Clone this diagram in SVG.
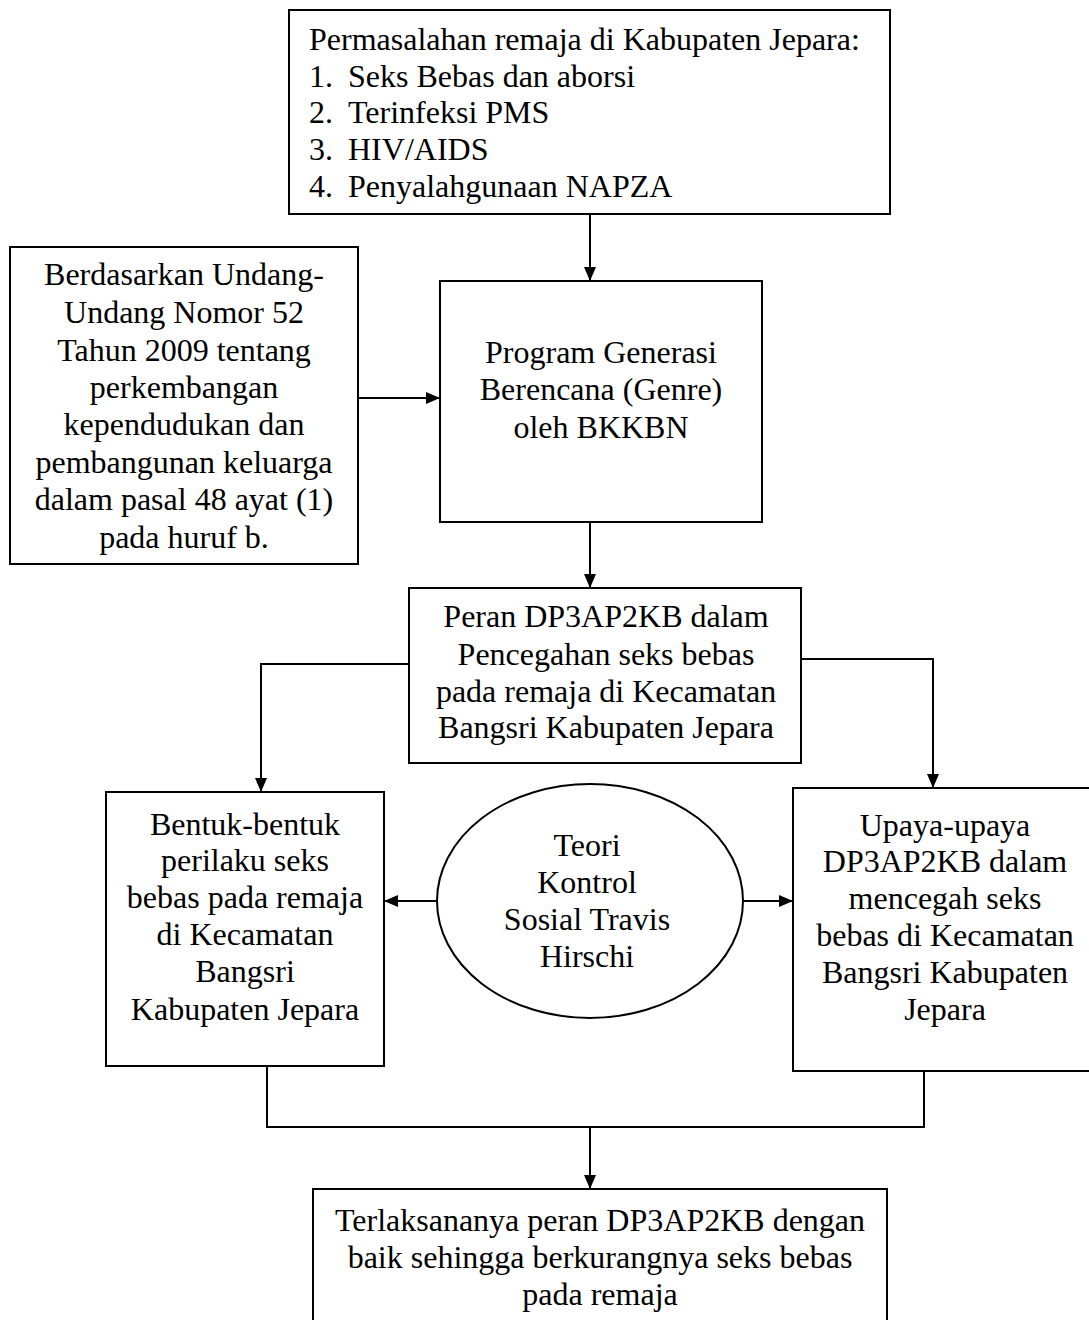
<svg xmlns="http://www.w3.org/2000/svg" width="1089" height="1320" viewBox="0 0 1089 1320">
<defs>
<marker id="ah" markerWidth="14" markerHeight="12" viewBox="0 0 14 12" refX="14" refY="6" orient="auto" markerUnits="userSpaceOnUse">
<path d="M0,0 L14,6 L0,12 z" fill="#000"/>
</marker>
<style>
.box{fill:#fff;stroke:#000;stroke-width:2}
.t{font-family:"Liberation Serif","Times New Roman",serif;font-size:32px;fill:#000}
.c{text-anchor:middle}
.ln{fill:none;stroke:#000;stroke-width:2}
.ar{fill:none;stroke:#000;stroke-width:2;marker-end:url(#ah)}
</style>
</defs>
<rect width="1089" height="1320" fill="#fff"/>
<g id="connectors">
<line class="ar" x1="590" y1="214" x2="590" y2="281"/>
<line class="ar" x1="358" y1="398" x2="440" y2="398"/>
<line class="ar" x1="590" y1="522" x2="590" y2="588"/>
<polyline class="ar" points="409,664 261,664 261,792"/>
<polyline class="ar" points="801,659 933,659 933,788"/>
<line class="ar" x1="437" y1="901" x2="384" y2="901"/>
<line class="ar" x1="744" y1="901" x2="793" y2="901"/>
<polyline class="ln" points="267,1066 267,1127 924,1127 924,1071"/>
<line class="ar" x1="590" y1="1127" x2="590" y2="1189"/>
</g>
<g id="n-permasalahan">
<rect class="box" x="289" y="10" width="601" height="204"/>
<text class="t" x="309" y="50">Permasalahan remaja di Kabupaten Jepara:</text>
<text class="t" x="309" y="87">1.</text><text class="t" x="348" y="87">Seks Bebas dan aborsi</text>
<text class="t" x="309" y="123">2.</text><text class="t" x="348" y="123">Terinfeksi PMS</text>
<text class="t" x="309" y="160">3.</text><text class="t" x="348" y="160">HIV/AIDS</text>
<text class="t" x="309" y="197">4.</text><text class="t" x="348" y="197">Penyalahgunaan NAPZA</text>
</g>
<g id="n-undang">
<rect class="box" x="10" y="247" width="348" height="317"/>
<text class="t c" x="184" y="285">Berdasarkan Undang-</text>
<text class="t c" x="184" y="323">Undang Nomor 52</text>
<text class="t c" x="184" y="361">Tahun 2009 tentang</text>
<text class="t c" x="184" y="398">perkembangan</text>
<text class="t c" x="184" y="435">kependudukan dan</text>
<text class="t c" x="184" y="473">pembangunan keluarga</text>
<text class="t c" x="184" y="510">dalam pasal 48 ayat (1)</text>
<text class="t c" x="184" y="548">pada huruf b.</text>
</g>
<g id="n-genre">
<rect class="box" x="440" y="281" width="322" height="241"/>
<text class="t c" x="601" y="363">Program Generasi</text>
<text class="t c" x="601" y="400">Berencana (Genre)</text>
<text class="t c" x="601" y="438">oleh BKKBN</text>
</g>
<g id="n-peran">
<rect class="box" x="409" y="588" width="392" height="175"/>
<text class="t c" x="606" y="627">Peran DP3AP2KB dalam</text>
<text class="t c" x="606" y="665">Pencegahan seks bebas</text>
<text class="t c" x="606" y="702">pada remaja di Kecamatan</text>
<text class="t c" x="606" y="738">Bangsri Kabupaten Jepara</text>
</g>
<g id="n-bentuk">
<rect class="box" x="106" y="792" width="278" height="274"/>
<text class="t c" x="245" y="835">Bentuk-bentuk</text>
<text class="t c" x="245" y="871">perilaku seks</text>
<text class="t c" x="245" y="908">bebas pada remaja</text>
<text class="t c" x="245" y="945">di Kecamatan</text>
<text class="t c" x="245" y="982">Bangsri</text>
<text class="t c" x="245" y="1020">Kabupaten Jepara</text>
</g>
<g id="n-teori">
<ellipse class="box" cx="590" cy="901" rx="153" ry="117"/>
<text class="t c" x="587" y="856">Teori</text>
<text class="t c" x="587" y="893">Kontrol</text>
<text class="t c" x="587" y="930">Sosial Travis</text>
<text class="t c" x="587" y="967">Hirschi</text>
</g>
<g id="n-upaya">
<rect class="box" x="793" y="788" width="300" height="283"/>
<text class="t c" x="945" y="836">Upaya-upaya</text>
<text class="t c" x="945" y="872">DP3AP2KB dalam</text>
<text class="t c" x="945" y="909">mencegah seks</text>
<text class="t c" x="945" y="946">bebas di Kecamatan</text>
<text class="t c" x="945" y="983">Bangsri Kabupaten</text>
<text class="t c" x="945" y="1020">Jepara</text>
</g>
<g id="n-hasil">
<rect class="box" x="313" y="1189" width="574" height="140"/>
<text class="t c" x="600" y="1231">Terlaksananya peran DP3AP2KB dengan</text>
<text class="t c" x="600" y="1268">baik sehingga berkurangnya seks bebas</text>
<text class="t c" x="600" y="1305">pada remaja</text>
</g>
</svg>
